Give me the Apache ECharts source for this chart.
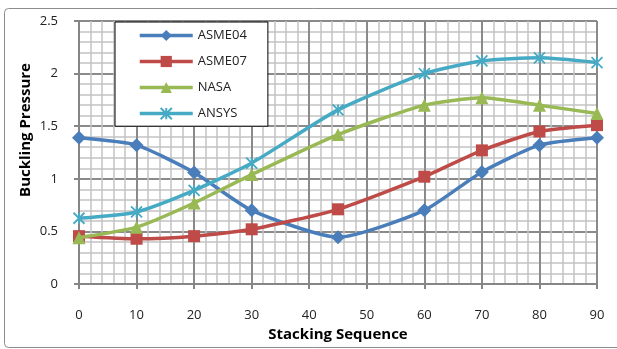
<!DOCTYPE html>
<html>
<head>
<meta charset="utf-8">
<script src="https://cdn.jsdelivr.net/npm/echarts@6/dist/echarts.min.js"></script>
<style>html,body{margin:0;padding:0;background:#fff;}#c{width:617px;height:349px;}</style>
</head>
<body>
<div id="c"></div>
<script>
var xValues = [0, 10, 20, 30, 45, 60, 70, 80, 90];
var asme04 = [1.39, 1.32, 1.06, 0.70, 0.445, 0.70, 1.065, 1.32, 1.39];
var asme07 = [0.455, 0.43, 0.455, 0.52, 0.71, 1.02, 1.27, 1.45, 1.51];
var nasa = [0.44, 0.54, 0.77, 1.04, 1.42, 1.70, 1.77, 1.70, 1.62];
var ansys = [0.625, 0.685, 0.89, 1.15, 1.655, 2.0, 2.12, 2.15, 2.105];
var seriesNames = ['ASME04', 'ASME07', 'NASA', 'ANSYS'];
var colors = ['#4A7EBB', '#BE4B48', '#98B954', '#46AAC5'];

function pairs(ys) { return xValues.map(function (x, i) { return [x, ys[i]]; }); }

var font = '"Open Sans", "Noto Sans CJK KR", sans-serif';
var chart = echarts.init(document.getElementById('c'));
var dataSets = [asme04, asme07, nasa, ansys];
var symbols = ['diamond', 'rect', 'triangle', 'path://M0,0L10,10M10,0L0,10M5,0L5,10'];
var sizes = [14, 12, 13, 11];

chart.setOption({
  animation: false,
  color: colors,
  grid: { left: 79, right: 20, top: 21, bottom: 65, containLabel: false },
  graphic: [
    { type: 'rect', shape: { x: 4.5, y: 8.5, width: 640, height: 339, r: 4 },
      style: { fill: 'none', stroke: '#8c8c8c', lineWidth: 1 }, z: -10 },
    { type: 'text', x: 26, y: 130, rotation: Math.PI / 2,
      style: { text: 'Buckling Pressure', font: 'bold 15px ' + font, fill: '#000',
               align: 'center', verticalAlign: 'middle' } }
  ],
  xAxis: {
    type: 'value', min: 0, max: 90, interval: 10,
    name: 'Stacking Sequence', nameLocation: 'middle', nameGap: 42,
    nameTextStyle: { fontFamily: font, fontWeight: 'bold', fontSize: 15, color: '#000' },
    axisLine: { show: true, lineStyle: { color: '#868686', width: 2 } },
    axisTick: { show: true, length: 5, lineStyle: { color: '#868686', width: 2 } },
    axisLabel: { margin: 25, fontFamily: font, fontSize: 13, color: '#222' },
    splitLine: { show: true, lineStyle: { color: '#8a8a8a', width: 2 } },
    minorTick: { show: false, splitNumber: 5 },
    minorSplitLine: { show: true, lineStyle: { color: '#c4c4c4', width: 1.5 } }
  },
  yAxis: {
    type: 'value', min: 0, max: 2.5, interval: 0.5,
    axisLine: { show: true, lineStyle: { color: '#868686', width: 2 } },
    axisTick: { show: true, length: 5, lineStyle: { color: '#868686', width: 2 } },
    axisLabel: { margin: 21, fontFamily: font, fontSize: 13, color: '#222' },
    splitLine: { show: true, lineStyle: { color: '#8a8a8a', width: 2 } },
    minorTick: { show: false, splitNumber: 5 },
    minorSplitLine: { show: true, lineStyle: { color: '#c4c4c4', width: 1.5 } }
  },
  legend: {
    orient: 'vertical', left: 115, top: 22,
    padding: [7, 21, 6, 23],
    itemWidth: 53, itemHeight: 14, itemGap: 13,
    backgroundColor: '#fff', borderColor: '#000', borderWidth: 1,
    lineStyle: { width: 3.5 },
    textStyle: { fontFamily: font, fontSize: 13, color: '#222', width: 60 },
    data: seriesNames
  },
  series: dataSets.map(function (d, i) {
    return {
      name: seriesNames[i], type: 'line', data: pairs(d), smooth: 0.2,
      symbol: symbols[i], symbolSize: sizes[i],
      lineStyle: { width: 3.5, color: colors[i] },
      itemStyle: i === 3 ? { color: colors[i], borderColor: colors[i], borderWidth: 1.8 }
                         : { color: colors[i], borderColor: colors[i], borderWidth: 0 },
      z: 3 + i
    };
  })
});
</script>
</body>
</html>
